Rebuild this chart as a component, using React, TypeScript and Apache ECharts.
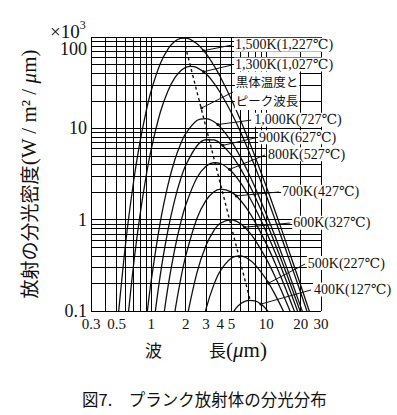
import React, { useEffect, useRef } from 'react';
import * as echarts from 'echarts';

// ---- data (wavelength in µm, spectral exitance in ×10^3 W/m²/µm) ----
const wl1500 = [0.5, 0.6, 0.7, 0.8, 0.9, 1, 1.2, 1.4, 1.6, 1.8, 2, 2.5, 3, 3.5, 4, 5, 6, 7, 8, 10, 12, 15, 20, 25, 30];
const m1500 = [0.056, 0.549, 2.49, 7.09, 14.9, 25.6, 50.8, 73.7, 89.1, 96.5, 97.4, 84.4, 65.6, 49.1, 36.5, 20.6, 12.2, 7.58, 4.93, 2.33, 1.23, 0.55, 0.19, 0.082, 0.041];
const wl1300 = [0.6, 0.7, 0.8, 0.9, 1, 1.2, 1.4, 1.6, 1.8, 2, 2.2, 2.5, 3, 3.5, 4, 5, 6, 7, 8, 10, 12, 15, 20, 25];
const m1300 = [0.047, 0.303, 1.12, 2.89, 5.84, 14.9, 25.7, 35.4, 42.4, 46.4, 47.7, 46.3, 39.5, 31.5, 24.5, 14.7, 9.04, 5.77, 3.82, 1.85, 0.99, 0.45, 0.158, 0.069];
const wl1000 = [0.8, 0.9, 1, 1.2, 1.4, 1.6, 1.8, 2, 2.5, 3, 3.5, 4, 5, 6, 7, 8, 10, 12, 15, 20, 25];
const m1000 = [0.0177, 0.0722, 0.211, 0.933, 2.39, 4.44, 6.69, 8.79, 12.2, 12.8, 11.9, 10.3, 7.14, 4.81, 3.27, 2.27, 1.16, 0.649, 0.306, 0.111, 0.049];
const wl900 = [1, 1.2, 1.4, 1.6, 1.8, 2, 2.5, 3, 3.5, 4, 5, 6, 7, 8, 10, 12, 15, 20];
const m900 = [0.0427, 0.246, 0.764, 1.63, 2.75, 3.95, 6.41, 7.5, 7.47, 6.84, 5.1, 3.6, 2.53, 1.79, 0.948, 0.539, 0.259, 0.0955];
const wl800 = [1.2, 1.4, 1.6, 1.8, 2, 2.5, 3, 3.5, 4, 5, 6, 7, 8, 10, 12, 15, 20];
const m800 = [0.0466, 0.183, 0.468, 0.906, 1.45, 2.88, 3.85, 4.2, 4.12, 3.37, 2.53, 1.85, 1.35, 0.742, 0.433, 0.213, 0.0802];
const wl700 = [1.4, 1.6, 1.8, 2, 2.5, 3, 3.5, 4, 5, 6, 7, 8, 10, 12, 15, 20];
const m700 = [0.0293, 0.0941, 0.218, 0.402, 1.03, 1.63, 2.01, 2.16, 2.0, 1.62, 1.25, 0.947, 0.55, 0.331, 0.168, 0.0652];
const wl600 = [1.8, 2, 2.5, 3, 3.5, 4, 5, 6, 7, 8, 10, 12, 15, 20];
const m600 = [0.0324, 0.0726, 0.262, 0.52, 0.755, 0.913, 0.998, 0.901, 0.748, 0.6, 0.374, 0.236, 0.125, 0.0505];
const wl500 = [2.5, 3, 3.5, 4, 5, 6, 7, 8, 10, 12, 15, 20];
const m500 = [0.0384, 0.105, 0.192, 0.275, 0.38, 0.401, 0.371, 0.322, 0.223, 0.15, 0.0848, 0.0364];
const wl400 = [4, 4.5, 5, 5.5, 6, 7, 8, 9, 10, 12];
const m400 = [0.0454, 0.0685, 0.09, 0.108, 0.12, 0.131, 0.129, 0.119, 0.105, 0.079];

const curveLabels = ['1,500K(1,227℃)', '1,300K(1,027℃)', '1,000K(727℃)', '900K(627℃)', '800K(527℃)', '700K(427℃)', '600K(327℃)', '500K(227℃)', '400K(127℃)'];
// leader line start (on the curve) and end (at the label) in data units [µm, value]
const leaderFrom = [[2.86, 70.9], [2.86, 41.7], [3.8, 11.0], [4.2, 6.51], [4.8, 3.55], [5.5, 1.82], [6.5, 0.827], [10.5, 0.202], [9, 0.119]];
const leaderTo = [[5.06, 81.7], [5.06, 49.4], [7.41, 12.3], [8.19, 7.9], [9.8, 5.11], [12.97, 2.01], [16.2, 0.919], [21.8, 0.327], [24.6, 0.17]];

// peak wavelength locus (dashed)
const peakWl = [1.98, 7.245];
const peakVal = [80, 0.132];
const peakLines = ['黒体温度と', 'ピーク波長'];
const peakLeaderFrom = [2.75, 16.7];
const peakLeaderTo = [5.16, 25.0];

// axes
const xTicks = [0.3, 0.5, 1, 2, 3, 4, 5, 10, 20, 30];
const xGrid = [0.3, 0.4, 0.5, 0.6, 0.7, 0.8, 0.9, 1, 2, 3, 4, 5, 6, 7, 8, 9, 10, 20, 30];
const yTicks = [0.1, 1, 10, 100];
const yGrid = [0.1, 0.2, 0.3, 0.4, 0.5, 0.6, 0.7, 0.8, 0.9, 1, 2, 3, 4, 5, 6, 7, 8, 9, 10, 20, 30, 40, 50, 60, 70, 80, 90, 100];

const SERIF = "'Liberation Serif', 'DejaVu Serif', 'Noto Sans CJK JP', serif";
const CJK = "'Noto Sans CJK JP', 'Liberation Serif', sans-serif";
const INK = '#111';

export default function App() {
  const ref = useRef<HTMLDivElement>(null);
  useEffect(() => {
    if (!ref.current) return;
    const chart = echarts.init(ref.current, undefined, { renderer: 'svg' });
    const curves = [
      [wl1500, m1500], [wl1300, m1300], [wl1000, m1000], [wl900, m900], [wl800, m800],
      [wl700, m700], [wl600, m600], [wl500, m500], [wl400, m400],
    ];
    const labelStyle = {
      show: true,
      position: 'end',
      distance: 2,
      color: INK,
      fontSize: 14,
      fontFamily: SERIF,
      backgroundColor: '#fff',
      padding: [0, 1, 0, 1],
    };
    const curveSeries = curves.map(([wl, m], k) => ({
      type: 'line',
      name: curveLabels[k],
      data: (wl as number[]).map((w, i) => [w, (m as number[])[i]]),
      showSymbol: false,
      smooth: 0.35,
      clip: true,
      z: 3,
      lineStyle: { color: INK, width: 1.3 },
      emphasis: { disabled: true },
      markLine: {
        silent: true,
        symbol: ['circle', 'none'],
        symbolSize: 3,
        lineStyle: { color: INK, width: 1, type: 'solid' },
        label: { ...labelStyle, formatter: curveLabels[k] },
        emphasis: { disabled: true },
        z: 5,
        data: [[{ coord: leaderFrom[k] }, { coord: leaderTo[k] }]],
      },
    }));
    const option = {
      animation: false,
      backgroundColor: '#fff',
      grid: { left: 91, right: 76, top: 37, bottom: 104 },
      xAxis: {
        type: 'log',
        logBase: 10,
        min: 0.3,
        max: 30,
        axisLine: { show: false },
        axisTick: { show: false },
        splitLine: { show: false },
        axisLabel: {
          customValues: xTicks,
          formatter: (v: number) => String(+Number(v).toPrecision(3)),
          fontSize: 15,
          fontFamily: SERIF,
          color: INK,
          margin: 5,
        },
        name: '波{g| }長{r|(}{i|μ}{r|m)}',
        nameLocation: 'middle',
        nameGap: 28,
        nameTextStyle: {
          fontSize: 17,
          fontFamily: CJK,
          color: INK,
          rich: {
            g: { width: 47, fontSize: 17 },
            r: { fontFamily: SERIF, fontSize: 21, color: INK },
            i: { fontStyle: 'italic', fontFamily: SERIF, fontSize: 21, color: INK },
          },
        },
      },
      yAxis: {
        type: 'log',
        logBase: 10,
        min: 0.1,
        max: 100,
        axisLine: { show: false },
        axisTick: { show: false },
        splitLine: { show: false },
        axisLabel: {
          customValues: yTicks,
          formatter: (v: number) => {
            const s = String(+Number(v).toPrecision(3));
            return s === '100' ? '{t|100}' : s;
          },
          fontSize: 18,
          fontFamily: SERIF,
          color: INK,
          margin: 4,
          rich: { t: { padding: [24, 0, 0, 0], fontSize: 18, fontFamily: SERIF, color: INK } },
        },
        name: '放射の分光密度{r|(W / m² / }{i|μ}{r|m)}',
        nameLocation: 'middle',
        nameGap: 52,
        nameTextStyle: {
          fontSize: 19,
          fontFamily: CJK,
          color: INK,
          rich: {
            r: { fontFamily: SERIF, fontSize: 21, color: INK },
            i: { fontStyle: 'italic', fontFamily: SERIF, fontSize: 21, color: INK },
          },
        },
      },
      graphic: [
        {
          type: 'text',
          left: 50,
          top: 19,
          style: {
            text: '×10{s|3}',
            fontSize: 19,
            fontFamily: SERIF,
            fill: INK,
            rich: { s: { fontSize: 12, fontFamily: SERIF, fill: INK, padding: [0, 0, 12, 0] } },
          },
        },
        {
          type: 'text',
          left: 82,
          top: 391,
          style: {
            text: '図7.　プランク放射体の分光分布',
            fontSize: 16.5,
            fontFamily: CJK,
            fill: INK,
          },
        },
      ],
      series: [
        {
          type: 'line',
          name: 'grid',
          data: [],
          z: 1,
          silent: true,
          markLine: {
            silent: true,
            symbol: 'none',
            animation: false,
            label: { show: false },
            emphasis: { disabled: true },
            lineStyle: { color: '#000', width: 1, type: 'solid' },
            data: [
              ...xGrid.map((v) => ({ xAxis: v })),
              ...yGrid.map((v) => ({ yAxis: v })),
            ],
          },
        },
        ...curveSeries,
        {
          type: 'line',
          name: 'peak',
          data: peakWl.map((w, i) => [w, peakVal[i]]),
          showSymbol: false,
          z: 3,
          lineStyle: { color: INK, width: 1.4, type: [3, 3] },
          emphasis: { disabled: true },
          markLine: {
            silent: true,
            symbol: ['circle', 'none'],
            symbolSize: 3,
            lineStyle: { color: INK, width: 1, type: 'solid' },
            label: {
              ...labelStyle,
              formatter: '{a|' + peakLines[0] + '}\n{a|' + peakLines[1] + '}',
              fontFamily: CJK,
              fontSize: 12.5,
              lineHeight: 19,
              padding: [0, 1, 0, 1],
              rich: { a: { fontFamily: CJK, fontSize: 12.5, lineHeight: 19, color: INK } },
            },
            emphasis: { disabled: true },
            data: [[{ coord: peakLeaderFrom }, { coord: peakLeaderTo }]],
          },
        },
      ],
    };
    chart.setOption(option as any);
    return () => chart.dispose();
  }, []);
  return (
    <div
      ref={ref}
      style={{ position: 'fixed', left: 0, top: 0, width: 397, height: 415, background: '#fff' }}
    />
  );
}
